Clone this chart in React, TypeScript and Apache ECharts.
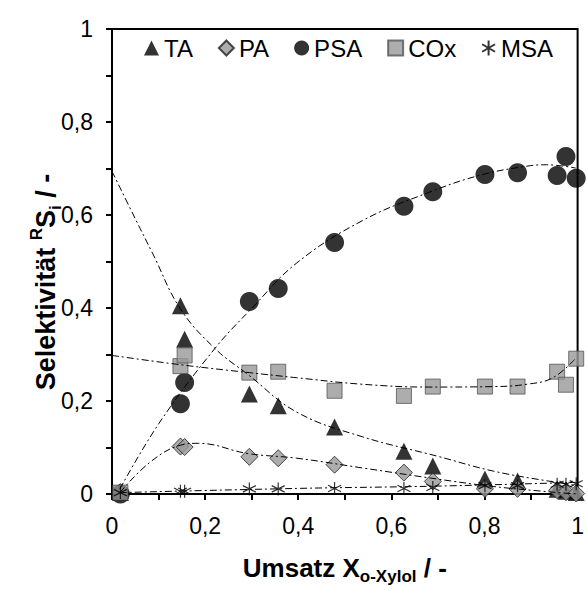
import React, { useEffect, useRef } from "react";
import * as echarts from "echarts";

// Measured conversion values (shared by all species)
const conversion = [0.018, 0.147, 0.156, 0.295, 0.357, 0.478, 0.627, 0.689, 0.801, 0.871, 0.956, 0.975, 0.997];
const taValues = [0.003, 0.405, 0.333, 0.215, 0.19, 0.144, 0.092, 0.06, 0.032, 0.028, 0.01, 0.006, 0.003];
const paValues = [0.004, 0.102, 0.101, 0.08, 0.077, 0.063, 0.046, 0.027, 0.011, 0.011, 0.008, 0.004, 0.001];
const psaValues = [0.0, 0.194, 0.24, 0.414, 0.442, 0.541, 0.619, 0.65, 0.687, 0.691, 0.685, 0.726, 0.679];
const coxValues = [0.003, 0.275, 0.298, 0.261, 0.263, 0.222, 0.211, 0.231, 0.231, 0.231, 0.263, 0.235, 0.291];
const msaValues = [0.003, 0.006, 0.006, 0.011, 0.011, 0.012, 0.012, 0.014, 0.018, 0.018, 0.021, 0.021, 0.022];

// Trend curves (x, y)
const taFitX = [0.0, 0.05, 0.087, 0.147, 0.221, 0.292, 0.397, 0.538, 0.7, 0.82, 0.954, 1.0];
const taFitY = [0.694, 0.592, 0.518, 0.398, 0.313, 0.257, 0.176, 0.123, 0.081, 0.049, 0.025, 0.018];
const psaFitX = [0.017, 0.101, 0.221, 0.299, 0.397, 0.538, 0.679, 0.792, 0.891, 0.933, 0.996];
const psaFitY = [0.011, 0.152, 0.313, 0.398, 0.497, 0.588, 0.648, 0.686, 0.705, 0.708, 0.701];
const coxFitX = [0.0, 0.147, 0.295, 0.397, 0.538, 0.679, 0.82, 0.891, 0.947, 0.996];
const coxFitY = [0.298, 0.278, 0.261, 0.25, 0.236, 0.23, 0.231, 0.236, 0.25, 0.292];
const paFitX = [0.017, 0.08, 0.147, 0.186, 0.292, 0.397, 0.538, 0.7, 0.82, 0.947, 1.0];
const paFitY = [0.003, 0.067, 0.105, 0.109, 0.087, 0.077, 0.056, 0.032, 0.016, 0.004, 0.0];
const msaFitX = [0.017, 0.397, 0.7, 0.996];
const msaFitY = [0.003, 0.012, 0.017, 0.025];

const seriesNames = ["TA", "PA", "PSA", "COx", "MSA"];
const xTitle = ["Umsatz X", "o-Xylol", " / -"];
const yTitle = ["Selektivität ", "R", "S", "i", " / -"];

const FONT = '"Liberation Sans", Arial, sans-serif';
const zip = (xs: number[], ys: number[]) => xs.map((x, i) => [x, ys[i]]);
const fmt = (v: number) => String(Math.round(v * 10) / 10).replace(".", ",");

const STAR = "path://M5,0L5,10M0.7,2.5L9.3,7.5M0.7,7.5L9.3,2.5";

const makeRich = (big: number, small: number, lh: number) => ({
  b: { fontFamily: FONT, fontSize: big, fontWeight: "bold", color: "#000", lineHeight: lh, verticalAlign: "middle" },
  sup: { fontFamily: FONT, fontSize: small, fontWeight: "bold", color: "#000", lineHeight: lh, verticalAlign: "top" },
  sub: { fontFamily: FONT, fontSize: small, fontWeight: "bold", color: "#000", lineHeight: lh, verticalAlign: "bottom" },
});

export default function App() {
  const ref = useRef<HTMLDivElement>(null);
  useEffect(() => {
    if (!ref.current) return;
    const chart = echarts.init(ref.current, undefined, { renderer: "svg" });
    const dash = [7, 3, 2, 3];
    const fitLine = (data: number[][]) => ({
      type: "line",
      data,
      smooth: 0.4,
      showSymbol: false,
      symbol: "none",
      silent: true,
      z: 5,
      lineStyle: { color: "#000", width: 1, type: dash },
    });
    chart.setOption({
      animation: false,
      backgroundColor: "#fff",
      grid: {
        left: 112,
        top: 29,
        width: 472,
        height: 471,
        show: true,
        borderColor: "#000",
        borderWidth: 2,
        backgroundColor: "transparent",
      },
      graphic: [
        {
          type: "text",
          x: 46,
          y: 282,
          rotation: Math.PI / 2,
          style: {
            text: `{b|${yTitle[0]}}{sup|${yTitle[1]}}{b|${yTitle[2]}}{sub|${yTitle[3]}}{b|${yTitle[4]}}`,
            rich: makeRich(27, 17, 36),
            align: "center",
            verticalAlign: "middle",
          },
        },
      ],
      legend: {
        data: seriesNames,
        left: 139,
        top: 31,
        itemWidth: 15,
        itemHeight: 15,
        itemGap: 25,
        textStyle: { fontFamily: FONT, fontSize: 24, color: "#000" },
      },
      xAxis: {
        type: "value",
        min: 0,
        max: 1,
        interval: 0.2,
        name: `{b|${xTitle[0]}}{sub|${xTitle[1]}}{b|${xTitle[2]}}`,
        nameLocation: "middle",
        nameGap: 57,
        nameTextStyle: { rich: makeRich(26, 17, 34) },
        axisLine: { show: true, lineStyle: { color: "#000", width: 2 } },
        axisTick: { show: true, inside: false, length: 6, lineStyle: { color: "#000", width: 2 } },
        minorTick: { show: true, splitNumber: 2, length: 6, lineStyle: { color: "#000", width: 2 } },
        splitLine: { show: false },
        axisLabel: { formatter: fmt, fontFamily: FONT, fontSize: 23, color: "#000", margin: 20 },
      },
      yAxis: {
        type: "value",
        min: 0,
        max: 1,
        interval: 0.2,
        axisLine: { show: true, lineStyle: { color: "#000", width: 2 } },
        axisTick: { show: true, inside: false, length: 6, lineStyle: { color: "#000", width: 2 } },
        minorTick: { show: true, splitNumber: 2, length: 6, lineStyle: { color: "#000", width: 2 } },
        splitLine: { show: false },
        axisLabel: { formatter: fmt, fontFamily: FONT, fontSize: 23, color: "#000", margin: 19 },
      },
      series: [
        {
          name: "TA",
          type: "scatter",
          symbol: "triangle",
          symbolSize: 17,
          z: 3,
          itemStyle: { color: "#000" },
          data: zip(conversion, taValues),
        },
        {
          name: "PA",
          type: "scatter",
          symbol: "diamond",
          symbolSize: 17,
          z: 3,
          itemStyle: { color: "#999999", borderColor: "#222", borderWidth: 1 },
          data: zip(conversion, paValues),
        },
        {
          name: "PSA",
          type: "scatter",
          symbol: "circle",
          symbolSize: 19,
          z: 3,
          itemStyle: { color: "#000" },
          data: zip(conversion, psaValues),
        },
        {
          name: "COx",
          type: "scatter",
          symbol: "rect",
          symbolSize: 15,
          z: 3,
          itemStyle: { color: "#999999", borderColor: "#555", borderWidth: 1 },
          data: zip(conversion, coxValues),
        },
        {
          name: "MSA",
          type: "scatter",
          symbol: STAR,
          symbolSize: 13,
          z: 3,
          itemStyle: { color: "transparent", borderColor: "#000", borderWidth: 1.2 },
          data: zip(conversion, msaValues),
        },
        fitLine(zip(taFitX, taFitY)),
        fitLine(zip(psaFitX, psaFitY)),
        fitLine(zip(coxFitX, coxFitY)),
        fitLine(zip(paFitX, paFitY)),
        fitLine(zip(msaFitX, msaFitY)),
      ],
    });
    return () => chart.dispose();
  }, []);
  return <div ref={ref} style={{ width: 587, height: 590, position: "absolute", left: 0, top: 0 }} />;
}
